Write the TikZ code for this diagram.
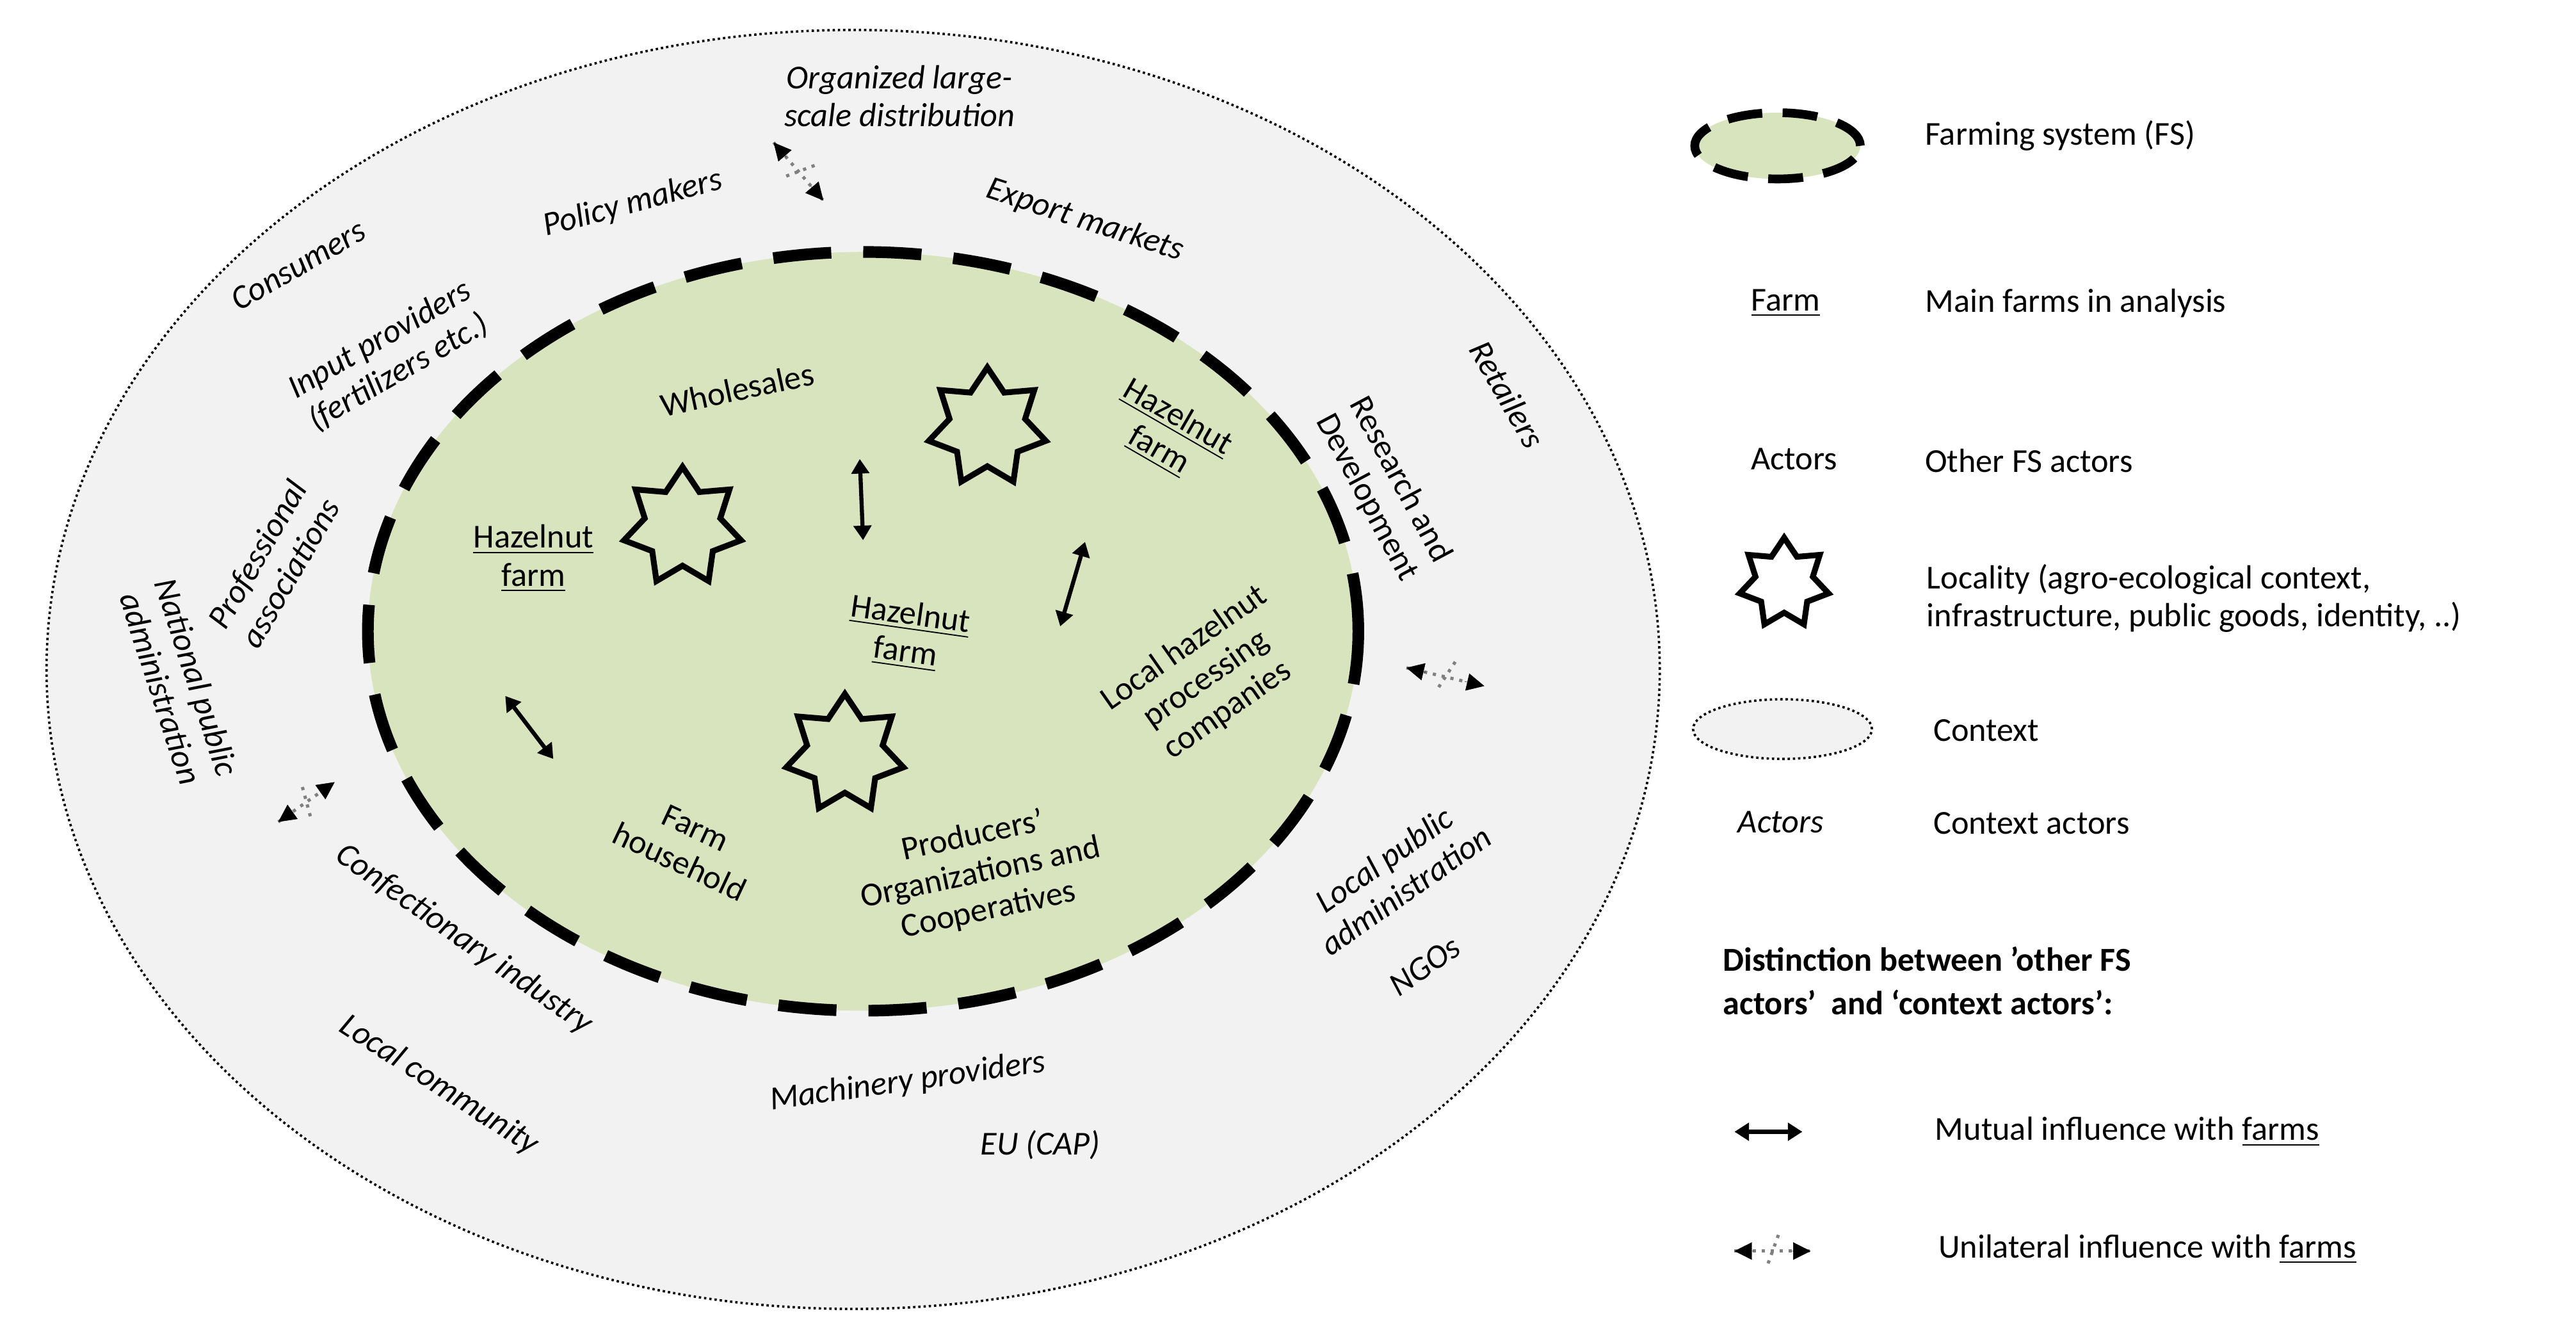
\documentclass[tikz,border=0pt]{standalone}
\usepackage{fontspec}
\setmainfont{Carlito}
\usetikzlibrary{shapes.geometric,arrows.meta,calc}
\begin{document}
\begin{tikzpicture}[x=0.02cm,y=-0.02cm,
  every node/.style={font=\fontsize{11.5}{13}\selectfont, align=center, inner sep=1pt},
  ctx/.style={font=\fontsize{11.5}{13}\selectfont\itshape},
  loc/.style={star, star points=7, star point ratio=1.55, draw, line width=2pt, minimum size=#1, inner sep=0pt},
  mut/.style={{Triangle[length=5pt,width=6pt]}-{Triangle[length=5pt,width=6pt]}, line width=1.4pt},
  cross/.style={gray, dotted, line width=1.1pt},
  fsd/.style={draw=black, line width=4pt, dash pattern=on 20pt off 11pt, fill=fsgreen}
]
\definecolor{fsgreen}{HTML}{D7E4BD}
\definecolor{ctxgray}{HTML}{F2F2F2}
\useasboundingbox (0,0) rectangle (1555,797);
% context ellipse
\node[ellipse, draw, densely dotted, line width=0.8pt, fill=ctxgray, minimum width=19.48cm, minimum height=15.44cm] (ctx) at (515,404) {};
% farming system
\node[ellipse, fsd, minimum width=11.96cm, minimum height=9.16cm] (fs) at (521,381) {};
% stars
\node[loc=1.45cm] (s1) at (412,318) {};
\node[loc=1.45cm] (s2) at (596,258) {};
\node[loc=1.45cm] (s3) at (510,455) {};
% mutual arrows
\coordinate (m1a) at (519,277); \coordinate (m1b) at (521,326);
\coordinate (m2a) at (655,327); \coordinate (m2b) at (640,378);
\coordinate (m3a) at (305,420); \coordinate (m3b) at (334,458);
\draw[mut] (m1a) -- (m1b);
\draw[mut] (m2a) -- (m2b);
\draw[mut] (m3a) -- (m3b);
% unilateral arrows
\coordinate (u1a) at (467,86); \coordinate (u1b) at (497,121);
\coordinate (u2a) at (849,403); \coordinate (u2b) at (896,414);
\coordinate (u3a) at (168,496); \coordinate (u3b) at (202,472);
\coordinate (l1a) at (1047,683); \coordinate (l1b) at (1088,683);
\coordinate (l2a) at (1047,755); \coordinate (l2b) at (1093,755);
\foreach \a/\b in {u1a/u1b,u2a/u2b,u3a/u3b,l2a/l2b}{
  \draw[cross] (\a) -- (\b);
  \draw[cross] ($(\a)!0.5!(\b)!0.45!70:(\b)$) -- ($(\a)!0.5!(\b)!0.45!-110:(\b)$);
  \draw[{Triangle[length=6pt,width=6pt]}-, line width=0.1pt] (\a) -- ($(\a)!0.25!(\b)$);
  \draw[{Triangle[length=6pt,width=6pt]}-, line width=0.1pt] (\b) -- ($(\b)!0.25!(\a)$);
}
\draw[mut] (l1a) -- (l1b);
% FS actors
\node[rotate=12] (whole) at (445,235) {Wholesales};
\node (hf1) at (322,337) {\underline{Hazelnut}\\\underline{farm}};
\node[rotate=-30] (hf2) at (705,262) {\underline{Hazelnut}\\\underline{farm}};
\node[rotate=-8] (hf3) at (548,383) {\underline{Hazelnut}\\\underline{farm}};
\node[rotate=35] (lhp) at (728,410) {Local hazelnut\\processing\\companies};
\node[rotate=-25] (fh) at (415,510) {Farm\\household};
\node[rotate=12] (po) at (592,527) {Producers’\\Organizations and\\Cooperatives};
\node[rotate=-62] (rd) at (835,295) {Research and\\Development};
% context actors
\node[ctx] (olsd) at (543,58) {Organized large-\\scale distribution};
\node[ctx, rotate=15] (pm) at (382,123) {Policy makers};
\node[ctx, rotate=-18] (em) at (655,133) {Export markets};
\node[ctx, rotate=30] (cons) at (180,160) {Consumers};
\node[ctx, rotate=30] (ip) at (235,215) {Input providers\\(fertilizers etc.)};
\node[ctx, rotate=-60] (ret) at (910,238) {Retailers};
\node[ctx, rotate=60] (pa) at (165,340) {Professional\\associations};
\node[ctx, rotate=-72] (npa) at (108,412) {National public\\administration};
\node[ctx, rotate=35] (lpa) at (842,528) {Local public\\administration};
\node[ctx, rotate=35] (ngo) at (860,583) {NGOs};
\node[ctx, rotate=-35] (ci) at (280,567) {Confectionary industry};
\node[ctx, rotate=-33] (lc) at (265,655) {Local community};
\node[ctx, rotate=8] (mp) at (548,653) {Machinery providers};
\node[ctx] (eu) at (628,691) {EU (CAP)};
% legend
\node[ellipse, fsd, line width=3pt, dash pattern=on 12pt off 7pt, minimum width=2cm, minimum height=0.8cm] (lfs) at (1073,88) {};
\node[anchor=west] (tfs) at (1160,82) {Farming system (FS)};
\node (lfarm) at (1078,183) {\underline{Farm}};
\node[anchor=west] (tfarm) at (1160,183) {Main farms in analysis};
\node (lact) at (1083,277) {Actors};
\node[anchor=west] (tact) at (1160,278) {Other FS actors};
\node[loc=1.1cm] (lloc) at (1077,352) {};
\node[anchor=west, align=left] (tloc) at (1161,361) {Locality (agro-ecological context,\\infrastructure, public goods, identity, ..)};
\node[ellipse, draw, densely dotted, line width=0.8pt, fill=ctxgray, minimum width=2.16cm, minimum height=0.72cm] (lctx) at (1076,440) {};
\node[anchor=west] (tctx) at (1165,441) {Context};
\node[ctx] (lca) at (1075,496) {Actors};
\node[anchor=west] (tca) at (1165,497) {Context actors};
\node[anchor=west, align=left, font=\fontsize{11.5}{15}\selectfont\bfseries] (dist) at (1038,592) {Distinction between ’other FS\\actors’ \ and ‘context actors’:};
\node[anchor=west] (tmut) at (1166,683) {Mutual influence with \underline{farms}};
\node[anchor=west] (tuni) at (1168,754) {Unilateral influence with \underline{farms}};
\end{tikzpicture}
\end{document}
